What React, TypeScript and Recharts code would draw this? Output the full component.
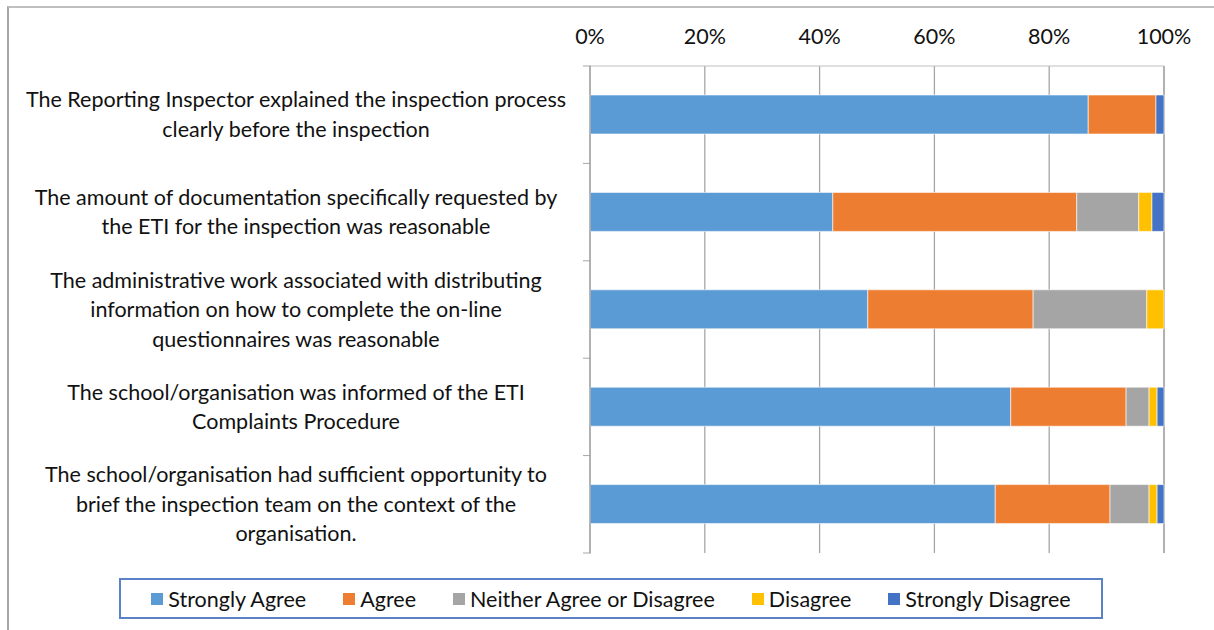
import { BarChart, Bar, XAxis, YAxis, CartesianGrid } from "recharts";

const categories = [
  "The Reporting Inspector explained the inspection process\nclearly before the inspection",
  "The amount of documentation specifically requested by\nthe ETI for the inspection was reasonable",
  "The administrative work associated with distributing\ninformation on how to complete the on-line\nquestionnaires was reasonable",
  "The school/organisation was informed of the ETI\nComplaints Procedure",
  "The school/organisation had sufficient opportunity to\nbrief the inspection team on the context of the\norganisation.",
];

const stronglyAgree = [86.8, 42.3, 48.4, 73.3, 70.6];
const agree = [11.8, 42.5, 28.8, 20.1, 20.0];
const neither = [0, 10.8, 19.8, 4.0, 6.8];
const disagree = [0, 2.3, 3.0, 1.4, 1.4];
const stronglyDisagree = [1.4, 2.1, 0, 1.2, 1.2];

const xTicks = [0, 20, 40, 60, 80, 100];

const series = [
  { key: "sa", name: "Strongly Agree", color: "#5B9BD5" },
  { key: "a", name: "Agree", color: "#ED7D31" },
  { key: "n", name: "Neither Agree or Disagree", color: "#A5A5A5" },
  { key: "d", name: "Disagree", color: "#FFC000" },
  { key: "sd", name: "Strongly Disagree", color: "#4472C4" },
];

const data = categories.map((c, i) => ({
  cat: c,
  sa: stronglyAgree[i],
  a: agree[i],
  n: neither[i],
  d: disagree[i],
  sd: stronglyDisagree[i],
}));

const FONT = "Lato, Calibri, sans-serif";
const FS = 21.5;

function CatTick(props: any) {
  const { x, y, payload, index } = props;
  const lines = String(payload.value).split("\n");
  const lh = 29.5;
  const band = 97.4;
  const startY = y - ((lines.length - 1) * lh) / 2;
  return (
    <g>
      <line x1={x + 1} x2={x + 9} y1={y - band / 2} y2={y - band / 2} stroke="#a6a6a6" />
      {index === categories.length - 1 && (
        <line x1={x + 1} x2={x + 9} y1={y + band / 2} y2={y + band / 2} stroke="#a6a6a6" />
      )}
      <text textAnchor="middle" fontSize={FS} fontFamily={FONT} fill="#111">
        {lines.map((l, i) => (
          <tspan key={i} x={296} y={startY + i * lh} dy="0.35em">
            {l}
          </tspan>
        ))}
      </text>
    </g>
  );
}

export default function App() {
  return (
    <div
      style={{
        position: "absolute",
        left: 0,
        top: 0,
        width: 1214,
        height: 630,
        background: "#fff",
        overflow: "hidden",
      }}
    >
      <div
        style={{
          position: "absolute",
          left: 7,
          top: 6,
          width: 1300,
          height: 700,
          borderLeft: "2px solid #a6a6a6",
          borderTop: "2px solid #bfbfbf",
        }}
      />
      <div style={{ position: "absolute", left: 0, top: 0 }}>
        <BarChart
          width={1214}
          height={563}
          layout="vertical"
          data={data}
          barCategoryGap={29}
          margin={{ top: 36, right: 50, bottom: 10, left: 0 }}
        >
          <CartesianGrid horizontal={false} stroke="#a6a6a6" strokeWidth={1.3} />
          <XAxis
            type="number"
            orientation="top"
            domain={[0, 100]}
            ticks={xTicks}
            tickFormatter={(v) => `${v}%`}
            axisLine={{ stroke: "#bfbfbf" }}
            tickLine={false}
            tick={{ fontSize: FS, fontFamily: FONT, fill: "#111" }}
            tickMargin={16}
            height={30}
          />
          <YAxis
            type="category"
            dataKey="cat"
            width={590}
            axisLine={{ stroke: "#a6a6a6", strokeWidth: 1.3 }}
            tickLine={false}
            tick={<CatTick />}
            interval={0}
          />
          {series.map((s) => (
            <Bar
              key={s.key}
              dataKey={s.key}
              name={s.name}
              stackId="1"
              fill={s.color}
              stroke="#ffffff"
              strokeWidth={0.6}
              isAnimationActive={false}
            />
          ))}
        </BarChart>
      </div>
      <div
        style={{
          position: "absolute",
          left: 119,
          top: 578,
          width: 984,
          height: 41,
          border: "2px solid #5b82c8",
          display: "flex",
          alignItems: "center",
          justifyContent: "center",
          gap: 37,
          fontFamily: FONT,
          fontSize: FS,
          color: "#111",
          boxSizing: "border-box",
        }}
      >
        {series.map((s) => (
          <div key={s.key} style={{ display: "flex", alignItems: "center" }}>
            <span
              style={{
                display: "inline-block",
                width: 12,
                height: 12,
                background: s.color,
                marginRight: 5,
              }}
            />
            <span>{s.name}</span>
          </div>
        ))}
      </div>
    </div>
  );
}
